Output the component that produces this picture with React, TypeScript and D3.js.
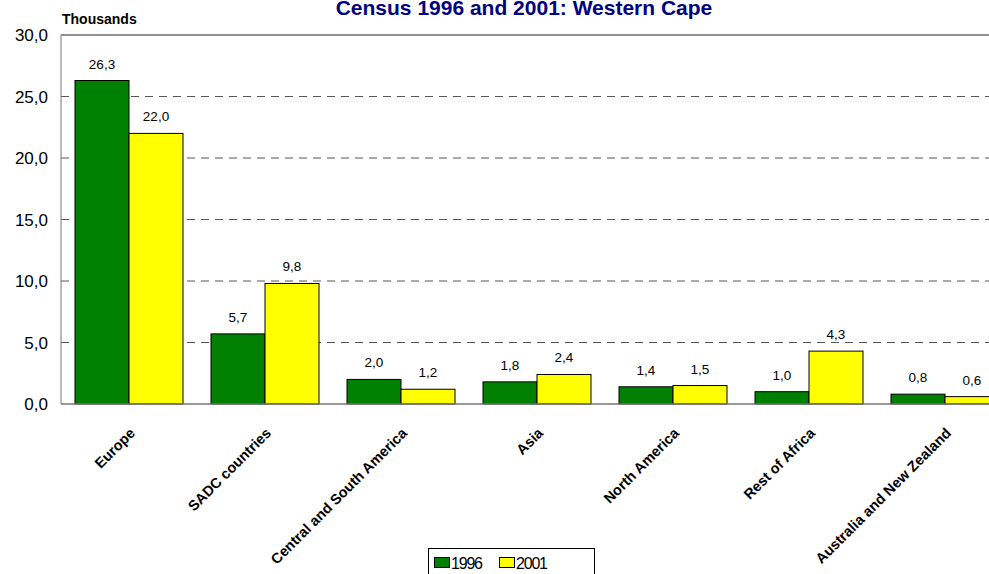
import React from "react";
import * as d3 from "d3";

const categories = ["Europe", "SADC countries", "Central and South America", "Asia", "North America", "Rest of Africa", "Australia and New Zealand"];
const series1996 = [26.3, 5.7, 2.0, 1.8, 1.4, 1.0, 0.8];
const series2001 = [22.0, 9.8, 1.2, 2.4, 1.5, 4.3, 0.6];
const seriesNames = ["1996", "2001"];
const seriesColors = ["#008000", "#FFFF00"];
const yTicks = [0, 5, 10, 15, 20, 25, 30];

const W = 989, H = 574;
const left = 61, top = 35, bottom = 404;
const band = 136;

export default function App() {
  const x = d3.scaleBand<string>().domain(categories).range([left, left + band * categories.length]).paddingInner(28 / 136).paddingOuter(14 / 136);
  const xi = d3.scaleBand<string>().domain(seriesNames).range([0, x.bandwidth()]);
  const y = d3.scaleLinear().domain([0, 30]).range([bottom, top]);
  const fmt = (v: number) => v.toFixed(1).replace(".", ",");
  const data = [series1996, series2001];
  return (
    <svg width={W} height={H} style={{ position: "absolute", left: 0, top: 0, fontFamily: "Arial, 'Liberation Sans', sans-serif" }}>
      <rect width={W} height={H} fill="#fff" />
      <text x={524} y={15} textAnchor="middle" fontSize={21} fontWeight="bold" fill="#000080">Census 1996 and 2001: Western Cape</text>
      <text x={62} y={24} fontSize={14} fontWeight="bold" fill="#000">Thousands</text>
      {yTicks.map((t) => (
        <g key={t}>
          {t > 0 && t < 30 && <line x1={left} x2={W} y1={y(t)} y2={y(t)} stroke="#555" strokeDasharray="8,6" />}
          <text x={48} y={y(t) + 6} textAnchor="end" fontSize={17} fill="#000">{fmt(t)}</text>
        </g>
      ))}
      <line x1={left} x2={W} y1={top} y2={top} stroke="#222" strokeWidth={1} />
      {categories.map((c, i) => (
        <g key={c}>
          {data.map((s, j) => {
            const bx = (x(c) as number) + (xi(seriesNames[j]) as number);
            return (
              <g key={j}>
                <rect x={bx} y={y(s[i])} width={xi.bandwidth()} height={bottom - y(s[i])} fill={seriesColors[j]} stroke="#000" strokeWidth={1} />
                <text x={bx + xi.bandwidth() / 2} y={y(s[i]) - 12} textAnchor="middle" fontSize={13.5} fill="#000">{fmt(s[i])}</text>
              </g>
            );
          })}
          <text transform={`translate(${(x(c) as number) + x.bandwidth() / 2 + 7},${bottom + 30}) rotate(-45)`} textAnchor="end" fontSize={14.5} fontWeight="bold" fill="#000">{c}</text>
        </g>
      ))}
      <line x1={left} x2={left} y1={top} y2={bottom} stroke="#777" />
      <line x1={left} x2={W} y1={bottom} y2={bottom} stroke="#777" strokeWidth={1.5} />
      <rect x={428.5} y={548.5} width={166} height={40} fill="#fff" stroke="#000" />
      {seriesNames.map((n, j) => (
        <g key={n}>
          <rect x={434.5 + j * 65} y={557.5} width={15} height={10} fill={seriesColors[j]} stroke="#000" />
          <text x={451 + j * 65} y={569} fontSize={16} fill="#000" textLength={32}>{n}</text>
        </g>
      ))}
    </svg>
  );
}
